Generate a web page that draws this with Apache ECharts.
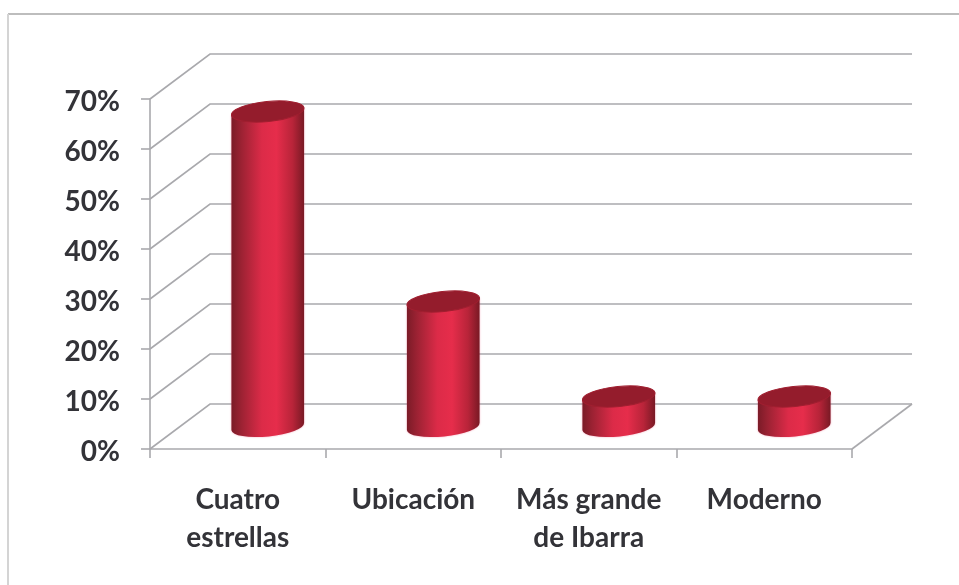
<!DOCTYPE html>
<html>
<head>
<meta charset="utf-8">
<style>html,body{margin:0;padding:0;background:#fff}#c{width:959px;height:585px}</style>
<script src="https://cdn.jsdelivr.net/npm/echarts@6/dist/echarts.min.js"></script>
</head>
<body>
<div id="c"></div>
<script>
var categories = ['Cuatro\nestrellas', 'Ubicación', 'Más grande\nde Ibarra', 'Moderno'];
var values = [63, 25, 6, 6];
var yTicks = [0, 10, 20, 30, 40, 50, 60, 70];

var DX = 60, DY = -45;
var GRID = '#a9a9ad';
var chart = echarts.init(document.getElementById('c'), null, {renderer: 'canvas'});

function wall(params, api) {
  var cs = params.coordSys;
  var v = api.value(0);
  var y = api.coord([0, v])[1];
  var kids = [{
    type: 'polyline',
    shape: {points: [[cs.x, y], [cs.x + DX, y + DY], [cs.x + cs.width + DX, y + DY]]},
    style: {stroke: GRID, lineWidth: 1.6, fill: null}
  }];
  if (v === 0) {
    kids.push({
      type: 'line',
      shape: {x1: cs.x + cs.width, y1: y, x2: cs.x + cs.width + DX, y2: y + DY},
      style: {stroke: GRID, lineWidth: 1.6}
    });
  }
  return {type: 'group', children: kids};
}

function cylinder(params, api) {
  var idx = api.value(0);
  var top = api.coord([idx, api.value(1)]);
  var bot = api.coord([idx, 0]);
  var rx = api.size([1, 0])[0] * 0.208;
  var ry = 10;
  var rot = 0.1;
  var cx = top[0] + DX / 2;
  var ty = top[1] + DY / 2;
  var by = bot[1] + DY / 2;
  var sx = rx * Math.cos(rot), sy = rx * Math.sin(rot);
  var deg = -rot * 180 / Math.PI;
  var body = new echarts.graphic.LinearGradient(0, 0, 1, 0, [
    {offset: 0, color: '#7a1b27'},
    {offset: 0.14, color: '#9c2233'},
    {offset: 0.42, color: '#dc2b48'},
    {offset: 0.62, color: '#e62d4b'},
    {offset: 0.84, color: '#b82439'},
    {offset: 1, color: '#781924'}
  ]);
  var bodyPath = 'M' + (cx - sx) + ' ' + (ty + sy) +
    'L' + (cx + sx) + ' ' + (ty - sy) +
    'L' + (cx + sx) + ' ' + (by - sy) +
    'A' + rx + ' ' + ry + ' ' + deg + ' 0 1 ' + (cx - sx) + ' ' + (by + sy) + 'Z';
  return {
    type: 'group',
    children: [
      {type: 'path', shape: {pathData: bodyPath, layout: 'cover'},
        style: {fill: body, shadowBlur: 2, shadowColor: 'rgba(230,40,90,0.45)'}},
      {type: 'ellipse', shape: {cx: 0, cy: 0, rx: rx, ry: ry}, x: cx, y: ty, rotation: rot,
        style: {fill: '#941c2c', stroke: '#a01f30', lineWidth: 1}}
    ]
  };
}

chart.setOption({
  animation: false,
  backgroundColor: '#ffffff',
  graphic: [
    {type: 'line', shape: {x1: 8, y1: 14, x2: 959, y2: 14}, style: {stroke: '#bdbdbd', lineWidth: 2}},
    {type: 'line', shape: {x1: 8, y1: 14, x2: 8, y2: 585}, style: {stroke: '#d4d4d4', lineWidth: 2}}
  ],
  grid: {left: 150, right: 107, top: 99, bottom: 136},
  xAxis: {
    type: 'category',
    data: categories,
    boundaryGap: true,
    axisLine: {show: true, lineStyle: {color: GRID, width: 1.6}},
    axisTick: {show: true, length: 9, alignWithLabel: false, lineStyle: {color: GRID, width: 1.6}},
    axisLabel: {
      interval: 0, margin: 32, color: '#333338', fontFamily: 'Lato', fontWeight: 'bold',
      fontSize: 28, lineHeight: 38
    },
    splitLine: {show: false}
  },
  yAxis: {
    type: 'value',
    min: 0, max: 70, interval: 10,
    axisLine: {show: true, lineStyle: {color: GRID, width: 1.6}},
    axisTick: {show: true, length: 9, lineStyle: {color: GRID, width: 1.6}},
    axisLabel: {
      margin: 30, color: '#333338',
      formatter: '{a|{value}%}',
      rich: {a: {color: '#333338', fontFamily: 'Lato', fontWeight: 'bold', fontSize: 28, padding: [6, 0, 0, 0]}}
    },
    splitLine: {show: false}
  },
  series: [
    {type: 'custom', name: 'grid', silent: true, z: 1, clip: false, renderItem: wall,
      encode: {y: 0}, data: yTicks.map(function (t) { return [t]; })},
    {type: 'custom', name: 'valores', z: 3, clip: false, renderItem: cylinder,
      encode: {x: 0, y: 1}, data: values.map(function (v, i) { return [i, v]; })}
  ]
});
</script>
</body>
</html>
